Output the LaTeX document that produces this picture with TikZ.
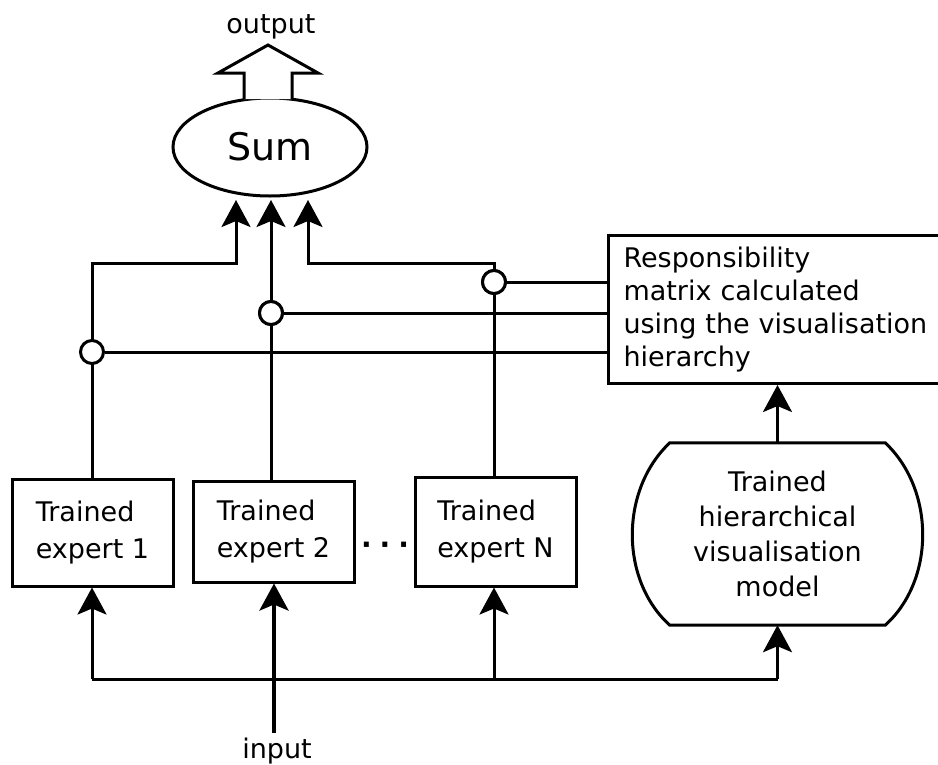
\documentclass[tikz,border=0pt]{standalone}
\usepackage{fontspec}
\setmainfont{DejaVu Sans}
\usetikzlibrary{arrows.meta,shapes.geometric}
\begin{document}
\begin{tikzpicture}[x=1pt,y=-1pt,
  wire/.style={line width=3pt},
  feed/.style={wire,-{Stealth[length=27pt,width=29pt,inset=6pt]}},
  txt/.style={font=\fontsize{27}{33}\selectfont},
  expertbox/.style={draw,wire,minimum width=161pt,align=left,font=\fontsize{27}{37}\selectfont},
  junction/.style={draw,circle,wire,fill=white,minimum size=23pt,inner sep=0pt}
]
\useasboundingbox (0,0) rectangle (938,764);

% combiner and its output
\node (sum) [draw,ellipse,wire,minimum width=194pt,minimum height=98pt,inner sep=0pt,
             font=\fontsize{38}{40}\selectfont] at (270,147) {Sum};
\draw[wire,fill=white] (244,99) -- (244,73) -- (218,73) -- (268,45) -- (318,73)
      -- (292,73) -- (292,99);
\node (out) [txt,anchor=base] at (271,33) {output};

% experts
\node (e1) [expertbox,minimum height=107pt] at (92.5,532.5) {Trained\\expert 1};
\node (e2) [expertbox,minimum height=101pt] at (273.5,531.5) {Trained\\expert 2};
\node (eN) [expertbox,minimum height=109pt] at (495.5,531.5) {Trained\\expert N};
\node (dots) [font=\fontsize{28}{28}\bfseries] at (385,548) {·\hspace{8pt}·\hspace{8pt}·};

% responsibility box and visualisation model
\node (resp) [draw,wire,txt,anchor=north west,minimum height=148pt,text width=320pt,
              inner xsep=15pt,align=left] at (607,234)
  {Responsibility\\matrix calculated\\using the visualisation\\hierarchy};
\node (model) [minimum width=215pt,minimum height=182pt,align=center,
               font=\fontsize{27}{35}\selectfont] at (777.5,534)
  {Trained\\hierarchical\\visualisation\\model};
\draw[wire] (model.north west) .. controls +(-50,47) and +(-50,-45) .. (model.south west)
  -- (model.south east) .. controls +(50,-45) and +(50,47) .. (model.north east) -- cycle;

% expert outputs into the sum
\coordinate (s1) at (236,200);
\coordinate (s2) at (271,200);
\coordinate (s3) at (308,200);
\coordinate (k1) at (92,263);
\coordinate (k3) at (494,263);
\draw[feed] (e1.north -| k1) -- (k1) -| (s1);
\draw[feed] (e2.north -| s2) -- (s2);
\draw[feed] (eN.north -| k3) -- (k3) -| (s3);

% weighting junctions fed by the responsibility matrix
\node (c1) [junction] at (92,352) {};
\node (c2) [junction] at (271,313) {};
\node (c3) [junction] at (494,282) {};
\draw[wire] (c1.east) -- (c1.east -| resp.west);
\draw[wire] (c2.east) -- (c2.east -| resp.west);
\draw[wire] (c3.east) -- (c3.east -| resp.west);
\node[junction] at (c2) {};
\node[junction] at (c3) {};

% model to responsibility matrix
\draw[feed] (model.north) -- (resp.south -| model.north);

% input distribution
\coordinate (in) at (274,733);
\coordinate (b1) at (92,679);
\coordinate (b4) at (777.5,679);
\draw[wire] (b1) -- (b4);
\draw[feed] (b1) -- (e1.south -| b1);
\draw[feed,line width=4pt] (in) -- (in |- e2.south);
\draw[feed] (b1 -| k3) -- (eN.south -| k3);
\draw[feed] (b4) -- (model.south);
\node (inlbl) [txt,anchor=base] at (277,758) {input};
\end{tikzpicture}
\end{document}
